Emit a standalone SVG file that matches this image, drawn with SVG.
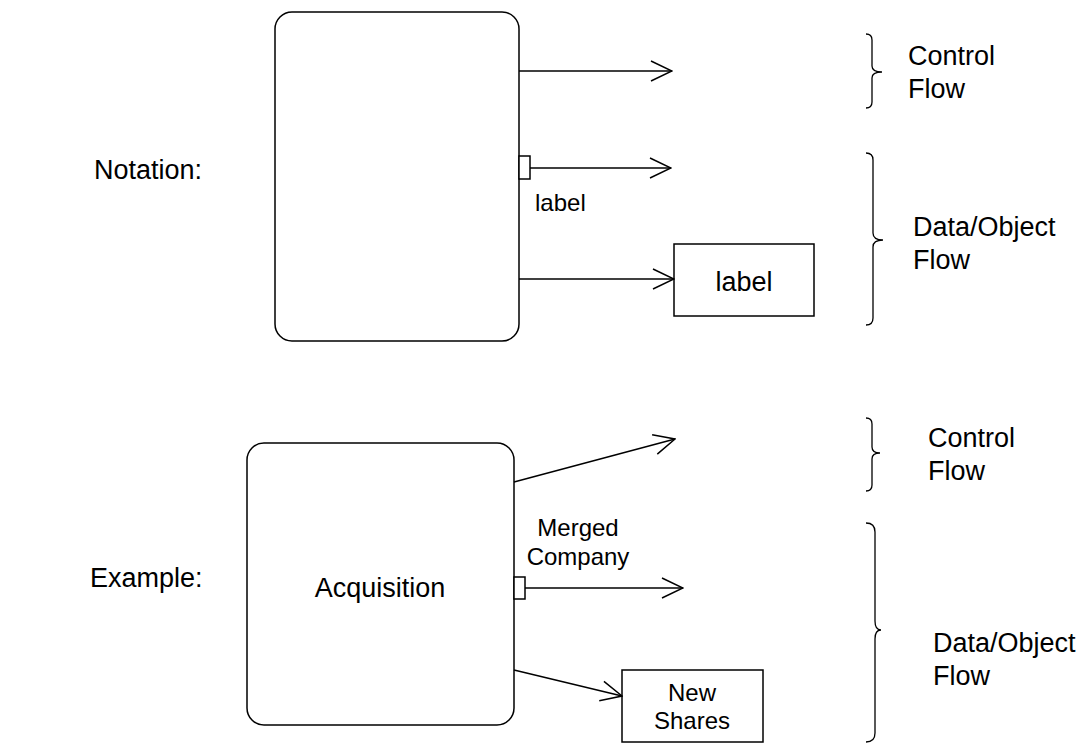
<svg xmlns="http://www.w3.org/2000/svg" width="1084" height="743" viewBox="0 0 1084 743">
  <style>
    .shape { fill: #fff; stroke: #000; stroke-width: 1.5; }
    .line { fill: none; stroke: #000; stroke-width: 1.5; }
    .brace { fill: none; stroke: #000; stroke-width: 1.3; }
    text { font-family: "Liberation Sans", Arial, sans-serif; fill: #000; }
    .big { font-size: 27px; }
    .small { font-size: 24px; }
    .mid { text-anchor: middle; }
  </style>
  <defs>
    <marker id="open" markerUnits="userSpaceOnUse" markerWidth="24" markerHeight="24" viewBox="-2 -2 24 24" refX="21" refY="10" orient="auto">
      <path d="M0,0 L21,10 L0,20" fill="none" stroke="#000" stroke-width="1.5"/>
    </marker>
  </defs>

  <rect width="1084" height="743" fill="#fff"/>

  <!-- Notation section -->
  <text id="notation-title" class="big" x="94" y="179">Notation:</text>

  <g id="activity-generic">
    <rect class="shape" x="275" y="12" width="244" height="329" rx="17" ry="17"/>
  </g>
  <g id="pin-generic">
    <rect class="shape" x="519" y="156" width="11" height="23"/>
    <text class="small" x="535" y="211">label</text>
  </g>
  <g id="object-generic">
    <rect class="shape" x="674" y="244" width="140" height="72"/>
    <text class="big mid" x="744" y="291">label</text>
  </g>

  <g id="legend-top">
    <path class="brace" d="M866,34 Q872,34 872,40 L872,66 Q872,72 882,72 Q872,72 872,78 L872,102 Q872,108 866,108"/>
    <text class="big" x="908" y="65">Control</text>
    <text class="big" x="908" y="98">Flow</text>
    <path class="brace" d="M866,153 Q873,153 873,160 L873,233 Q873,240 883,240 Q873,240 873,247 L873,318 Q873,325 866,325"/>
    <text class="big" x="913" y="236">Data/Object</text>
    <text class="big" x="913" y="269">Flow</text>
  </g>

  <!-- Example section -->
  <text id="example-title" class="big" x="90" y="587">Example:</text>

  <g id="acquisition">
    <rect class="shape" x="247" y="443" width="267" height="282" rx="17" ry="17"/>
    <text class="big mid" x="380" y="597">Acquisition</text>
  </g>
  <g id="pin-merged-company">
    <rect class="shape" x="514" y="577" width="11" height="22"/>
    <text class="small mid" x="578" y="536">Merged</text>
    <text class="small mid" x="578" y="565">Company</text>
  </g>
  <g id="new-shares">
    <rect class="shape" x="622" y="670" width="141" height="72"/>
    <text class="small mid" x="692" y="701">New</text>
    <text class="small mid" x="692" y="729">Shares</text>
  </g>

  <g id="legend-bottom">
    <path class="brace" d="M866,418 Q872,418 872,424 L872,447 Q872,453 880,453 Q872,453 872,459 L872,485 Q872,491 866,491"/>
    <text class="big" x="928" y="447">Control</text>
    <text class="big" x="928" y="480">Flow</text>
    <path class="brace" d="M866,523 Q875,523 875,532 L875,621 Q875,630 881,630 Q875,630 875,639 L875,733 Q875,742 866,742"/>
    <text class="big" x="933" y="652">Data/Object</text>
    <text class="big" x="933" y="685">Flow</text>
  </g>

  <!-- Flows -->
  <g id="connectors">
    <line class="line" x1="519" y1="71" x2="672" y2="71" marker-end="url(#open)"/>
    <line class="line" x1="530" y1="168" x2="671" y2="168" marker-end="url(#open)"/>
    <line class="line" x1="519" y1="279" x2="674" y2="279" marker-end="url(#open)"/>
    <line class="line" x1="514" y1="482" x2="675" y2="439" marker-end="url(#open)"/>
    <line class="line" x1="525" y1="588" x2="683" y2="588" marker-end="url(#open)"/>
    <line class="line" x1="514" y1="670" x2="622" y2="696" marker-end="url(#open)"/>
  </g>
</svg>
